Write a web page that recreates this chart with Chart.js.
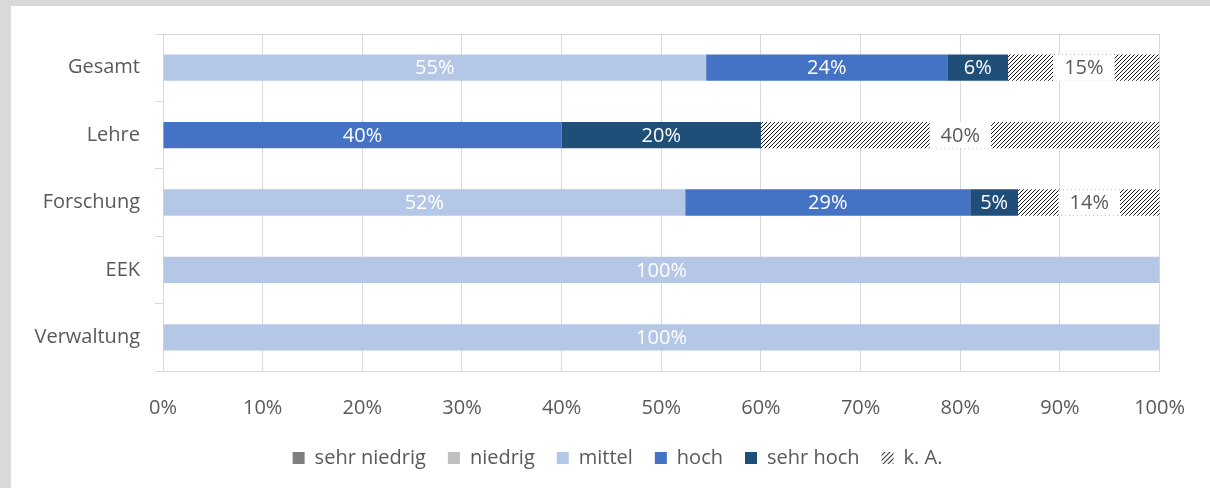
<!DOCTYPE html>
<html>
<head>
<meta charset="utf-8">
<script src="https://cdn.jsdelivr.net/npm/chart.js@4"></script>
<style>
  body { margin: 0; background: #d9d9d9; }
  #box { position: absolute; left: 11px; top: 6px; width: 1199px; height: 482px; background: #fff; }
</style>
</head>
<body>
<div id="box"><canvas id="chart" width="1199" height="482"></canvas></div>
<script>
const categories = ['Gesamt', 'Lehre', 'Forschung', 'EEK', 'Verwaltung'];
const seriesNames = ['sehr niedrig', 'niedrig', 'mittel', 'hoch', 'sehr hoch', 'k. A.'];
const sehrNiedrig = [0, 0, 0, 0, 0];
const niedrig = [0, 0, 0, 0, 0];
const mittel = [54.5, 0, 52.4, 100, 100];
const hoch = [24.2, 40, 28.6, 0, 0];
const sehrHoch = [6.1, 20, 4.8, 0, 0];
const keineAngabe = [15.2, 40, 14.3, 0, 0];
const xTicks = [0, 10, 20, 30, 40, 50, 60, 70, 80, 90, 100];

const grey = '#595959';
const gridGrey = '#d9d9d9';

// diagonal "////" hatch used for k. A.
function hatch(size, width, bg, ink) {
  const c = document.createElement('canvas');
  c.width = size; c.height = size;
  const g = c.getContext('2d');
  if (bg) { g.fillStyle = bg; g.fillRect(0, 0, size, size); }
  g.strokeStyle = ink;
  g.lineWidth = width;
  g.beginPath();
  g.moveTo(-1, size + 1); g.lineTo(size + 1, -1);
  g.moveTo(-1, 1); g.lineTo(1, -1);
  g.moveTo(size - 1, size + 1); g.lineTo(size + 1, size - 1);
  g.stroke();
  return g.createPattern(c, 'repeat');
}
const barPattern = hatch(4, 0.9, '#fff', '#000');
const legendPattern = hatch(5, 1.2, null, '#404040');

const barLabels = {
  id: 'barLabels',
  afterDatasetsDraw(chart) {
    const ctx = chart.ctx;
    ctx.save();
    ctx.font = "20px 'Open Sans'";
    ctx.textAlign = 'center';
    ctx.textBaseline = 'middle';
    chart.data.datasets.forEach((ds, i) => {
      chart.getDatasetMeta(i).data.forEach((bar, j) => {
        const v = ds.data[j];
        if (!v) return;
        const p = bar.getCenterPoint();
        const txt = Math.round(v) + '%';
        if (ds.label === 'k. A.') {
          const w = ctx.measureText(txt).width + 22;
          ctx.fillStyle = '#fff';
          ctx.fillRect(p.x - w / 2, bar.y - bar.height / 2, w, bar.height);
          ctx.fillStyle = grey;
        } else {
          ctx.fillStyle = '#fff';
        }
        ctx.fillText(txt, p.x, p.y + 1);
      });
    });
    ctx.restore();
  }
};

// centre the legend under the whole frame rather than the padded area
const legendShift = {
  id: 'legendShift',
  afterLayout(chart) {
    chart.legend.left += 32;
    chart.legend.right += 32;
  }
};

Chart.defaults.font.family = "'Open Sans', sans-serif";
Chart.defaults.font.size = 20;
Chart.defaults.color = grey;

const colors = ['#7f7f7f', '#bfbfbf', '#b4c7e7', '#4472c4', '#1f4e79', barPattern];
const values = [sehrNiedrig, niedrig, mittel, hoch, sehrHoch, keineAngabe];

new Chart(document.getElementById('chart'), {
  type: 'bar',
  data: {
    labels: categories,
    datasets: seriesNames.map((name, i) => ({
      label: name,
      data: values[i],
      backgroundColor: colors[i],
      borderWidth: 0,
      categoryPercentage: 1,
      barPercentage: 0.39
    }))
  },
  options: {
    indexAxis: 'y',
    responsive: false,
    animation: false,
    layout: { padding: { top: 28, right: 50, bottom: 10, left: 0 } },
    scales: {
      x: {
        stacked: true,
        min: 0,
        max: 100,
        afterBuildTicks: s => { s.ticks = xTicks.map(v => ({ value: v })); },
        afterFit: s => { s.height = 55; },
        ticks: { callback: v => v + '%', padding: 25 },
        grid: { color: gridGrey, drawTicks: false },
        border: { color: gridGrey }
      },
      y: {
        stacked: true,
        afterFit: s => { s.width = 152; },
        ticks: { padding: 15 },
        grid: {
          color: c => (c.type === 'scale' || c.index === 0) ? gridGrey : 'rgba(0,0,0,0)',
          tickColor: gridGrey,
          tickLength: 8
        },
        border: { color: gridGrey }
      }
    },
    plugins: {
      tooltip: { enabled: false },
      legend: {
        position: 'bottom',
        labels: {
          boxWidth: 12,
          boxHeight: 12,
          padding: 22,
          generateLabels: chart => chart.data.datasets.map((ds, i) => ({
            text: ds.label,
            fillStyle: ds.label === 'k. A.' ? legendPattern : ds.backgroundColor,
            strokeStyle: 'rgba(0,0,0,0)',
            lineWidth: 0,
            fontColor: grey,
            datasetIndex: i
          }))
        }
      }
    }
  },
  plugins: [barLabels, legendShift]
});
</script>
</body>
</html>
